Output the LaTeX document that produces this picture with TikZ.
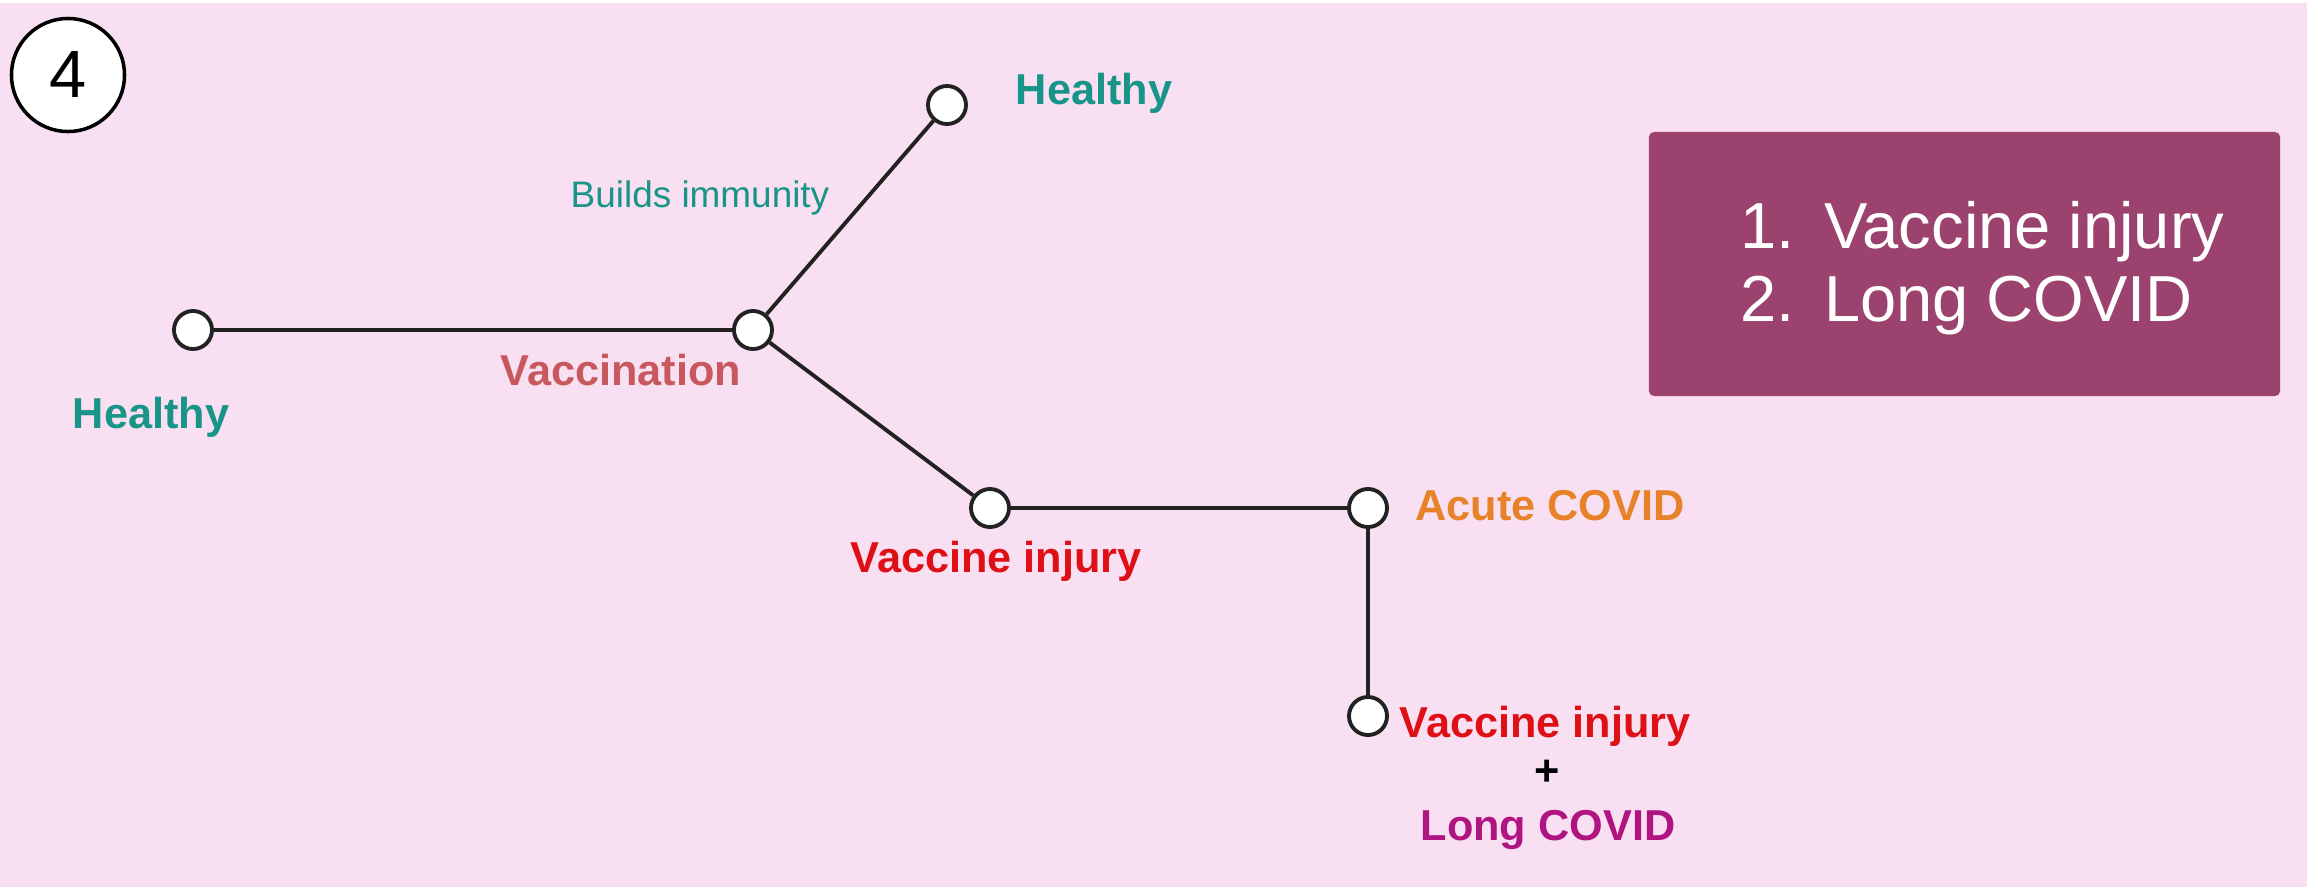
\documentclass[tikz,border=0pt]{standalone}
\usepackage{fontspec}
\setmainfont{Liberation Sans}
\usepackage{xcolor}
\usepackage{tikz}
\usetikzlibrary{positioning}
\definecolor{bgpink}{RGB}{248, 224, 242}
\definecolor{linegray}{RGB}{34, 34, 34}
\definecolor{tealgreen}{RGB}{24, 148, 136}
\definecolor{vacred}{RGB}{200, 88, 94}
\definecolor{injred}{RGB}{222, 16, 22}
\definecolor{covorange}{RGB}{232, 130, 40}
\definecolor{longmag}{RGB}{176, 20, 128}
\definecolor{boxplum}{RGB}{155, 66, 110}

\begin{document}
\begin{tikzpicture}[
    x=0.01cm, y=-0.01cm,
    state/.style={circle, draw=linegray, fill=white, line width=1.1pt,
                  minimum size=0.38cm, inner sep=0pt},
    link/.style={draw=linegray, line width=1.1pt},
    lbl/.style={anchor=base, inner sep=0pt, font=\fontsize{12.3}{14}\selectfont\bfseries},
    badge/.style={circle, draw=black, fill=white, line width=1pt,
                  minimum size=1.13cm, inner sep=0pt, font=\fontsize{19}{22}\selectfont},
    goalbox/.style={rectangle, fill=boxplum, rounded corners=1.5pt,
                    minimum width=6.31cm, minimum height=2.64cm, inner sep=0pt}
]

\useasboundingbox (0,0) rectangle (2318,887);
\fill[white] (0,0) rectangle (2318,887);
\fill[bgpink] (0,3) rectangle (2307,887);

\node[badge] (num) at (68,75) {4};

% states
\node[state] (h0)   at (193,330) {};
\node[state] (vac)  at (753,330) {};
\node[state] (h1)   at (947,105) {};
\node[state] (inj)  at (990,508) {};
\node[state] (acu)  at (1368,508) {};
\node[state] (both) at (1368,716) {};

\draw[link] (h0) -- (vac);
\draw[link] (vac) -- (h1);
\draw[link] (vac) -- (inj);
\draw[link] (inj) -- (acu);
\draw[link] (acu) -- (both);

% labels
\node[lbl, tealgreen] (hTopLbl)  at (1094,104) {Healthy};
\node[lbl, tealgreen, font=\fontsize{10.5}{12}\selectfont] (immLbl) at (700,207) {Builds immunity};
\node[lbl, vacred]    (vacLbl)   at (621,385) {Vaccination};
\node[lbl, tealgreen] (hLeftLbl) at (151,428) {Healthy};
\node[lbl, injred]    (injLbl)   at (996,572) {Vaccine injury};
\node[lbl, covorange] (acuLbl)   at (1550,520) {Acute COVID};
\node[lbl, injred]    (injLbl2)  at (1545,737) {Vaccine injury};
\node[lbl, black, anchor=center] (plusLbl) at (1547,773) {+};
\node[lbl, longmag]   (longLbl)  at (1548,840) {Long COVID};

% summary box
\node[goalbox] (goals) at (1964.5,264) {};
\node[anchor=base west, inner sep=0pt, text=white,
      font=\fontsize{18.5}{21}\selectfont] (goalList) at (1740,248)
  {\begin{tabular}[t]{@{}l@{\hspace{8.3pt}}l@{}}
     1. & Vaccine injury\\
     2. & Long COVID
   \end{tabular}};

\end{tikzpicture}
\end{document}
